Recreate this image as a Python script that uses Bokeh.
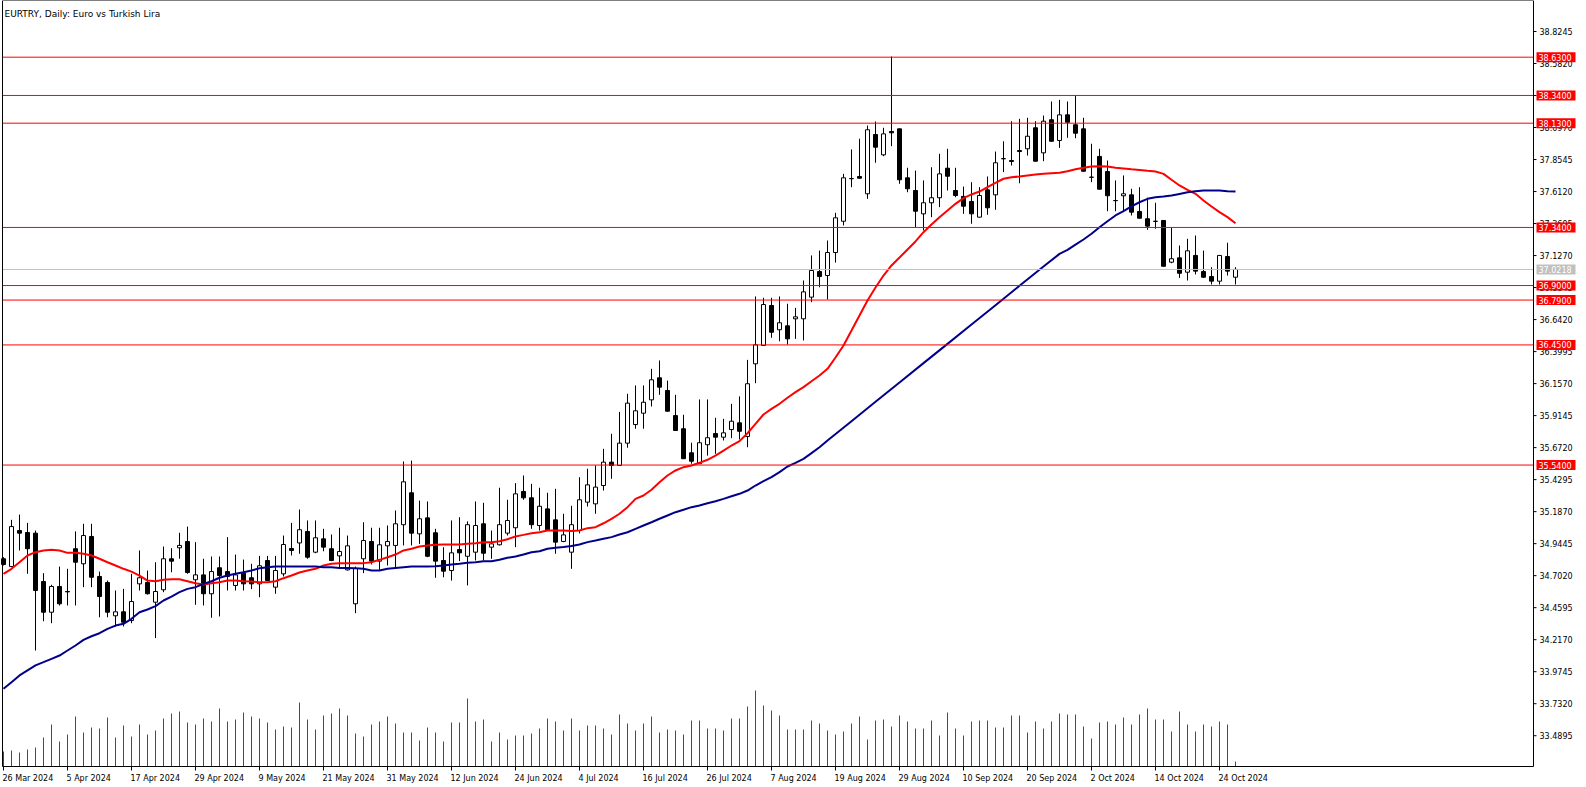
import pandas as pd
from bokeh.plotting import figure
from bokeh.models import ColumnDataSource, Range1d
from bokeh.core.properties import value
from bokeh.embed import file_html
from bokeh.resources import INLINE

# ---------------- data ----------------
chart_title = "EURTRY, Daily:  Euro vs Turkish Lira"
dates = pd.bdate_range("2024-03-26", periods=155)

opens = [
    34.830, 34.771, 35.044, 35.029, 35.024, 34.658, 34.425, 34.620, 34.582, 34.906,
    34.792, 34.999, 34.696, 34.650, 34.398, 34.428, 34.362, 34.640, 34.650, 34.501,
    34.595, 34.830, 34.913, 34.961, 34.671, 34.708, 34.565, 34.762, 34.733, 34.628,
    34.721, 34.686, 34.640, 34.817, 34.615, 34.716, 34.908, 34.950, 35.037, 34.880,
    34.981, 34.906, 34.852, 34.746, 34.489, 34.830, 34.961, 34.812, 34.928, 34.931,
    35.088, 35.330, 35.019, 35.140, 35.027, 34.817, 34.741, 34.900, 34.849, 34.880,
    35.095, 34.918, 34.936, 35.024, 35.065, 35.340, 35.292, 35.082, 35.208, 35.125,
    34.961, 34.880, 35.044, 35.259, 35.246, 35.385, 35.562, 35.537, 35.706, 35.847,
    35.933, 36.034, 36.201, 36.105, 35.915, 35.815, 35.633, 35.550, 35.694, 35.779,
    35.751, 35.809, 35.860, 35.756, 36.307, 36.446, 36.749, 36.565, 36.595, 36.648,
    36.648, 36.812, 37.006, 36.976, 37.150, 37.387, 37.709, 37.726, 37.595, 38.044,
    37.890, 38.067, 38.087, 37.716, 37.620, 37.443, 37.527, 37.565, 37.789, 37.620,
    37.575, 37.537, 37.418, 37.625, 37.587, 37.860, 37.847, 37.923, 37.936, 38.095,
    37.905, 38.156, 37.999, 38.193, 38.118, 38.087, 37.721, 37.878, 37.764, 37.544,
    37.580, 37.587, 37.461, 37.406, 37.387, 37.393, 37.077, 37.110, 37.001, 37.128,
    37.006, 36.968, 36.933, 37.120, 36.963]

highs = [
    34.842, 35.125, 35.165, 35.102, 35.044, 34.721, 34.633, 34.771, 34.754, 35.037,
    35.095, 35.095, 34.733, 34.665, 34.590, 34.602, 34.716, 34.893, 34.741, 34.804,
    34.923, 34.910, 35.027, 35.074, 34.956, 34.830, 34.847, 34.847, 34.994, 34.862,
    34.824, 34.792, 34.852, 34.852, 34.852, 35.006, 35.102, 35.203, 35.120, 35.120,
    35.057, 35.014, 35.065, 35.006, 34.771, 35.107, 35.065, 35.065, 35.082, 35.196,
    35.567, 35.574, 35.271, 35.264, 35.057, 34.918, 35.120, 35.145, 35.113, 35.264,
    35.254, 35.044, 35.368, 35.277, 35.403, 35.461, 35.398, 35.368, 35.330, 35.360,
    35.171, 35.231, 35.448, 35.512, 35.537, 35.663, 35.777, 35.943, 36.080, 36.143,
    36.143, 36.269, 36.332, 36.180, 36.072, 35.921, 35.709, 36.037, 36.037, 35.898,
    35.890, 36.004, 36.060, 36.337, 36.817, 36.807, 36.807, 36.817, 36.762, 36.731,
    36.938, 37.128, 37.165, 37.241, 37.451, 37.746, 37.931, 38.012, 38.112, 38.143,
    38.095, 38.635, 38.089, 37.792, 37.771, 37.696, 37.796, 37.898, 37.936, 37.792,
    37.650, 37.683, 37.645, 37.726, 37.915, 37.993, 38.145, 38.163, 38.171, 38.145,
    38.188, 38.294, 38.307, 38.294, 38.340, 38.171, 37.974, 37.936, 37.847, 37.696,
    37.734, 37.633, 37.645, 37.565, 37.527, 37.395, 37.342, 37.203, 37.254, 37.279,
    37.165, 37.039, 37.130, 37.224, 37.039]

lows = [
    34.779, 34.766, 34.893, 34.716, 34.135, 34.357, 34.342, 34.476, 34.476, 34.476,
    34.615, 34.615, 34.387, 34.387, 34.317, 34.317, 34.342, 34.590, 34.559, 34.229,
    34.577, 34.728, 34.830, 34.716, 34.481, 34.476, 34.383, 34.393, 34.590, 34.590,
    34.590, 34.600, 34.539, 34.660, 34.565, 34.696, 34.855, 34.868, 34.830, 34.872,
    34.887, 34.812, 34.754, 34.741, 34.418, 34.721, 34.787, 34.746, 34.779, 34.762,
    34.931, 34.931, 34.943, 34.842, 34.686, 34.690, 34.665, 34.812, 34.628, 34.817,
    34.817, 34.830, 34.931, 35.006, 34.918, 35.277, 35.057, 35.044, 35.044, 34.868,
    34.956, 34.754, 35.022, 35.226, 35.171, 35.347, 35.436, 35.537, 35.671, 35.815,
    35.815, 35.984, 36.072, 35.945, 35.800, 35.586, 35.550, 35.548, 35.612, 35.625,
    35.726, 35.744, 35.734, 35.675, 36.160, 36.444, 36.504, 36.478, 36.453, 36.496,
    36.484, 36.774, 36.887, 36.794, 37.074, 37.355, 37.645, 37.707, 37.557, 37.830,
    37.880, 37.956, 37.671, 37.607, 37.342, 37.317, 37.418, 37.494, 37.620, 37.569,
    37.443, 37.368, 37.416, 37.436, 37.474, 37.759, 37.809, 37.675, 37.885, 37.840,
    37.842, 37.990, 37.943, 38.019, 38.016, 37.763, 37.683, 37.628, 37.463, 37.463,
    37.456, 37.431, 37.408, 37.322, 37.330, 37.044, 37.069, 36.958, 36.938, 36.984,
    36.958, 36.908, 36.908, 36.976, 36.908]

closes = [
    34.787, 35.074, 35.024, 34.906, 34.590, 34.425, 34.620, 34.489, 34.579, 34.804,
    35.006, 34.690, 34.544, 34.425, 34.428, 34.349, 34.506, 34.686, 34.565, 34.582,
    34.830, 34.812, 34.931, 34.726, 34.708, 34.565, 34.733, 34.703, 34.696, 34.708,
    34.640, 34.640, 34.777, 34.665, 34.741, 34.938, 34.893, 35.050, 34.842, 34.989,
    34.918, 34.817, 34.885, 34.928, 34.756, 34.968, 34.812, 34.936, 34.961, 35.095,
    35.413, 35.024, 35.133, 34.849, 34.812, 34.736, 34.875, 34.875, 35.088, 35.082,
    34.872, 34.943, 35.088, 35.120, 35.322, 35.292, 35.088, 35.228, 35.050, 34.956,
    35.011, 35.088, 35.277, 35.390, 35.373, 35.562, 35.537, 35.706, 36.009, 35.951,
    36.016, 36.186, 36.130, 35.948, 35.802, 35.588, 35.569, 35.709, 35.747, 35.751,
    35.784, 35.872, 35.796, 36.156, 36.451, 36.756, 36.546, 36.618, 36.496, 36.663,
    36.852, 37.014, 36.968, 37.150, 37.413, 37.716, 37.711, 37.713, 38.080, 37.948,
    38.049, 38.057, 37.701, 37.633, 37.463, 37.527, 37.565, 37.746, 37.728, 37.582,
    37.501, 37.443, 37.582, 37.489, 37.830, 37.862, 37.840, 37.915, 38.031, 37.842,
    38.145, 37.993, 38.193, 38.137, 38.054, 37.766, 37.720, 37.630, 37.580, 37.543,
    37.595, 37.456, 37.410, 37.350, 37.386, 37.046, 37.103, 36.993, 37.163, 37.009,
    36.963, 36.933, 37.128, 37.009, 37.022]

# tick volume (arbitrary units)
volumes = [
    15, 16, 14, 17, 19, 29, 42, 25, 32, 50, 34, 39, 38, 49, 29, 41, 30, 42, 32, 36,
    48, 53, 55, 44, 42, 48, 45, 58, 45, 47, 54, 50, 48, 44, 37, 40, 39, 64, 47, 37,
    51, 53, 58, 51, 33, 30, 42, 45, 50, 43, 34, 34, 26, 39, 34, 25, 44, 44, 68, 45,
    47, 25, 34, 27, 31, 31, 33, 38, 48, 45, 36, 48, 36, 41, 41, 38, 32, 52, 43, 36,
    43, 50, 34, 37, 36, 32, 46, 46, 38, 38, 36, 48, 48, 60, 76, 61, 56, 51, 37, 37,
    37, 46, 43, 36, 32, 35, 43, 50, 27, 46, 47, 40, 51, 45, 38, 38, 46, 31, 54, 38,
    31, 45, 46, 46, 39, 39, 51, 51, 34, 45, 38, 45, 53, 52, 52, 40, 28, 44, 45, 42,
    49, 42, 52, 58, 47, 47, 35, 55, 42, 35, 42, 40, 45, 42, 5]

# fast moving average (red)
ma_fast = [
    34.716, 34.754, 34.804, 34.855, 34.880, 34.893, 34.898, 34.893, 34.875, 34.875,
    34.868, 34.855, 34.830, 34.804, 34.779, 34.754, 34.733, 34.703, 34.665, 34.660,
    34.671, 34.675, 34.675, 34.660, 34.645, 34.635, 34.645, 34.652, 34.665, 34.665,
    34.660, 34.658, 34.652, 34.652, 34.660, 34.683, 34.703, 34.726, 34.741, 34.754,
    34.779, 34.792, 34.797, 34.797, 34.797, 34.797, 34.804, 34.822, 34.842, 34.862,
    34.893, 34.906, 34.923, 34.931, 34.936, 34.938, 34.938, 34.938, 34.943, 34.948,
    34.956, 34.956, 34.963, 34.978, 34.999, 35.011, 35.024, 35.031, 35.044, 35.044,
    35.044, 35.040, 35.044, 35.062, 35.069, 35.099, 35.133, 35.171, 35.221, 35.284,
    35.309, 35.353, 35.410, 35.461, 35.499, 35.524, 35.537, 35.557, 35.580, 35.612,
    35.650, 35.688, 35.721, 35.781, 35.852, 35.923, 35.966, 36.004, 36.050, 36.092,
    36.130, 36.175, 36.218, 36.269, 36.355, 36.446, 36.559, 36.673, 36.787, 36.885,
    36.976, 37.052, 37.112, 37.173, 37.234, 37.304, 37.362, 37.418, 37.468, 37.519,
    37.562, 37.590, 37.612, 37.645, 37.678, 37.709, 37.721, 37.726, 37.734, 37.741,
    37.746, 37.751, 37.754, 37.766, 37.781, 37.792, 37.802, 37.804, 37.802, 37.792,
    37.787, 37.781, 37.776, 37.769, 37.764, 37.746, 37.701, 37.658, 37.625, 37.595,
    37.544, 37.499, 37.456, 37.418, 37.372]

# slow moving average (dark blue), sampled at these bar numbers
ma_slow_bar = list(range(0, 104)) + [106, 109, 112, 115, 118, 121, 124, 127, 130] + list(range(132, 155))
ma_slow = [
    33.845, 33.895, 33.946, 33.984, 34.022, 34.047, 34.072, 34.097, 34.135, 34.173,
    34.216, 34.243, 34.266, 34.299, 34.324, 34.337, 34.375, 34.425, 34.446, 34.471,
    34.514, 34.544, 34.577, 34.602, 34.615, 34.640, 34.660, 34.686, 34.703, 34.716,
    34.728, 34.741, 34.758, 34.766, 34.771, 34.771, 34.771, 34.771, 34.771, 34.771,
    34.766, 34.766, 34.761, 34.761, 34.758, 34.754, 34.741, 34.741, 34.754, 34.761,
    34.766, 34.771, 34.771, 34.771, 34.774, 34.779, 34.787, 34.792, 34.800, 34.804,
    34.812, 34.812, 34.822, 34.838, 34.847, 34.862, 34.880, 34.887, 34.906, 34.913,
    34.919, 34.927, 34.938, 34.956, 34.968, 34.981, 34.994, 35.014, 35.031, 35.057,
    35.082, 35.107, 35.133, 35.158, 35.183, 35.201, 35.221, 35.234, 35.251, 35.266,
    35.284, 35.304, 35.322, 35.347, 35.385, 35.418, 35.448, 35.486, 35.529, 35.557,
    35.587, 35.630, 35.675, 35.726,
    35.872, 36.019, 36.165, 36.312, 36.458, 36.605, 36.751, 36.898, 37.044,
    37.140, 37.170, 37.210, 37.249, 37.292, 37.342, 37.387, 37.431, 37.463, 37.499,
    37.531, 37.557, 37.569, 37.574, 37.582, 37.594, 37.606, 37.614, 37.620, 37.620,
    37.620, 37.614, 37.612]

date_tick_labels = ["26 Mar 2024", "5 Apr 2024", "17 Apr 2024", "29 Apr 2024", "9 May 2024",
                    "21 May 2024", "31 May 2024", "12 Jun 2024", "24 Jun 2024", "4 Jul 2024",
                    "16 Jul 2024", "26 Jul 2024", "7 Aug 2024", "19 Aug 2024", "29 Aug 2024",
                    "10 Sep 2024", "20 Sep 2024", "2 Oct 2024", "14 Oct 2024", "24 Oct 2024"]

price_ticks = [38.8245, 38.5820, 38.3395, 38.0970, 37.8545, 37.6120, 37.3695, 37.1270,
               36.8845, 36.6420, 36.3995, 36.1570, 35.9145, 35.6720, 35.4295, 35.1870,
               34.9445, 34.7020, 34.4595, 34.2170, 33.9745, 33.7320, 33.4895]

levels = [38.63, 38.34, 38.13, 37.34, 36.90, 36.79, 36.45, 35.54]
bid = 37.0218

# ---------------- layout / styling ----------------
FONT = value("DejaVu Sans")
FSIZE = "8px"
RED = "#ff0000"
BLUE = "#00008b"
GREEN = "#008000"
GREY = "#c0c0c0"

W, H = 1586, 787
PX_BAR = 8.0          # pixels per bar
PX_UNIT = 132.0       # pixels per lira
X0 = -3.0 / PX_BAR    # bar 0 sits at pixel 3
Y1 = price_ticks[0] + 31 / PX_UNIT   # top tick sits 31 px below the top
X1 = X0 + W / PX_BAR
Y0 = Y1 - H / PX_UNIT

def xpx(px):   # horizontal screen position -> x coordinate (for chrome only)
    return X0 + px / PX_BAR

def ypx(py):   # vertical screen position (from top) -> price coordinate (for chrome only)
    return Y1 - py / PX_UNIT

L_PX, R_PX, T_PX, B_PX = 2, 1533, 0, 766   # chart window border
XL, XR, YT, YB = xpx(L_PX), xpx(R_PX), ypx(T_PX), ypx(B_PX)

idx = list(range(len(dates)))

p = figure(width=W, height=H, x_range=Range1d(X0, X1), y_range=Range1d(Y0, Y1),
           output_backend="svg", toolbar_location=None, title=None,
           x_axis_location=None, y_axis_location=None,
           min_border=0, min_border_left=0, min_border_right=0,
           min_border_top=0, min_border_bottom=0)
p.grid.visible = False
p.outline_line_color = None
p.background_fill_color = "white"
p.border_fill_color = "white"

# volume (own scale, baseline on the bottom border)
p.extra_y_ranges = {"vol": Range1d(-(H - B_PX), B_PX)}
vsrc = ColumnDataSource(dict(x=idx, v=volumes, z=[0] * len(idx)))
p.segment(x0="x", y0="z", x1="x", y1="v", source=vsrc, line_color=GREEN, line_width=1,
          y_range_name="vol")

# candles
up = [i for i in idx if closes[i] >= opens[i]]
dn = [i for i in idx if closes[i] < opens[i]]
wsrc = ColumnDataSource(dict(x=idx, lo=lows, hi=highs))
p.segment(x0="x", y0="lo", x1="x", y1="hi", source=wsrc, line_color="black", line_width=1)
usrc = ColumnDataSource(dict(x=up, top=[closes[i] for i in up], bot=[opens[i] for i in up]))
dsrc = ColumnDataSource(dict(x=dn, top=[opens[i] for i in dn], bot=[closes[i] for i in dn]))
p.vbar(x="x", top="top", bottom="bot", width=0.5, source=usrc,
       fill_color="white", line_color="black", line_width=1)
p.vbar(x="x", top="top", bottom="bot", width=0.5, source=dsrc,
       fill_color="black", line_color="black", line_width=1)

# moving averages
p.line(x=idx, y=ma_fast, line_color=RED, line_width=2)
p.line(x=ma_slow_bar, y=ma_slow, line_color=BLUE, line_width=2)

# horizontal levels and bid line across the chart window
n = len(levels)
p.segment(x0=[XL] * n, y0=levels, x1=[XR] * n, y1=levels, line_color=RED, line_width=1)
p.segment(x0=[XL], y0=[bid], x1=[XR], y1=[bid], line_color=GREY, line_width=1)

# chart window border
p.line(x=[XL, XL, XR, XR, XL], y=[YB, YT, YT, YB, YB], line_color="black", line_width=1)

# price scale (right)
m = len(price_ticks)
p.segment(x0=[XR] * m, y0=price_ticks, x1=[xpx(R_PX + 3)] * m, y1=price_ticks,
          line_color="black", line_width=1)
p.text(x=[xpx(1539)] * m, y=price_ticks, text=[f"{t:.4f}" for t in price_ticks],
       text_font=FONT, text_font_size=FSIZE, text_color="black",
       text_align="left", text_baseline="middle")

# time scale (bottom)
label_dates = [pd.to_datetime(s, format="%d %b %Y") for s in date_tick_labels]
tick_pos = [int(dates.get_loc(d)) for d in label_dates]
k = len(tick_pos)
p.segment(x0=tick_pos, y0=[YB] * k, x1=tick_pos, y1=[ypx(B_PX + 4)] * k,
          line_color="black", line_width=1)
p.text(x=[t - 1.0 / PX_BAR for t in tick_pos], y=[ypx(778.3)] * k, text=date_tick_labels,
       text_font=FONT, text_font_size=FSIZE, text_color="black",
       text_align="left", text_baseline="alphabetic")

# price tags on the right scale
tag_vals = levels + [bid]
tag_cols = [RED] * n + [GREY]
p.rect(x=[xpx(1555.5)] * len(tag_vals), y=tag_vals, width=39, height=10,
       width_units="screen", height_units="screen",
       fill_color=tag_cols, line_color=None)
p.text(x=[xpx(1538)] * len(tag_vals), y=tag_vals, text=[f"{v:.4f}" for v in tag_vals],
       text_font=FONT, text_font_size=FSIZE, text_color="white",
       text_align="left", text_baseline="middle")

# chart caption
p.text(x=[xpx(4)], y=[ypx(13.3)], text=[chart_title], text_font=FONT, text_font_size="9px",
       text_color="black", text_align="left", text_baseline="alphabetic")

open("out.html", "w").write(file_html(p, INLINE))
